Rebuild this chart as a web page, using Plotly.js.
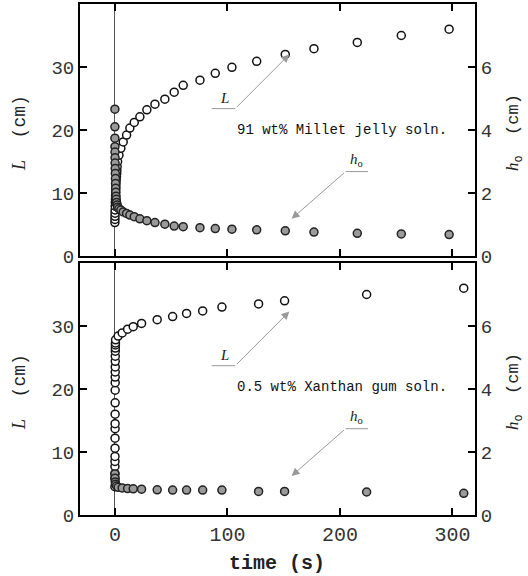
<!DOCTYPE html>
<html><head><meta charset="utf-8">
<script src="https://cdn.plot.ly/plotly-3.0.1.min.js"></script>
<style>html,body{margin:0;padding:0;background:#fff;}</style>
</head><body>
<div id="chart" style="width:528px;height:576px;"></div>
<script>
// ---- Top panel: 91 wt% Millet jelly solution ----
const millet_L_time = [0,0.05,0.1,0.15,0.2,0.3,0.4,0.5,0.6,0.7,0.8,0.9,1.0,1.2,1.4,1.6,1.8,2.0,2.4,3.6,5.3,7.4,10.4,13.3,17.2,22.2,28.4,35.6,44.4,52.7,60.7,75.6,89.2,104,126,151.4,176.9,215.4,254.5,297];
const millet_L = [5.3,5.8,6.3,6.8,7.3,7.9,8.5,9.0,9.6,10.1,10.6,11.1,11.6,12.1,12.6,13.1,13.6,14.2,15.0,16.0,17.1,18.1,19.2,20.3,21.2,22.1,23.2,24.1,24.9,26.0,27.1,27.9,29.0,29.95,30.9,32.0,32.9,33.9,35.0,36.0,36.9];
const millet_h_time = [0,0,0,0.05,0.1,0.15,0.2,0.3,0.4,0.5,0.6,0.7,0.8,1.0,1.2,1.5,2.0,2.4,3.6,5.3,7.4,10.4,13.3,17.2,22.2,28.4,35.6,44.4,52.7,60.7,75.6,89.2,104,126,151.4,176.9,215.4,254.5,297];
const millet_h = [4.66,4.10,3.74,3.47,3.30,3.12,2.95,2.78,2.62,2.46,2.30,2.15,2.02,1.90,1.80,1.70,1.62,1.55,1.50,1.46,1.40,1.35,1.30,1.25,1.18,1.12,1.06,1.01,0.95,0.93,0.90,0.87,0.85,0.83,0.80,0.76,0.72,0.70,0.68,0.66];

// ---- Bottom panel: 0.5 wt% Xanthan gum solution ----
const xanthan_L_time = [0.0,0.02,0.04,0.06,0.08,0.1,0.12,0.14,0.16,0.18,0.2,0.22,0.24,0.26,0.28,0.3,0.32,0.34,0.36,0.38,0.4,0.45,0.5,0.6,2.9,6.5,11.3,16.3,23.7,37.6,51.3,63.7,78,95.1,127.7,150.8,223.7,310];
const xanthan_L = [4.5,5.8,6.6,7.7,8.5,9.3,10.6,12.2,13.7,14.5,16.0,17.8,19.8,21.0,21.9,22.7,23.5,24.4,25.2,26.0,26.5,27.0,27.3,27.8,28.4,28.9,29.5,29.9,30.4,31.0,31.5,32.0,32.4,33.0,33.5,34.0,35.0,36.0];
const xanthan_h_time = [0,0.1,0.3,0.6,1.5,2.9,6.5,11.3,16.3,23.7,37.6,51.3,63.7,78,95.1,127.7,150.8,223.7,310];
const xanthan_h = [1.30,1.17,1.05,0.98,0.92,0.88,0.86,0.84,0.83,0.82,0.80,0.79,0.79,0.79,0.79,0.75,0.75,0.73,0.69];

const xTicks = [0,100,200,300];
const yLTicks = [0,10,20,30];
const yHTicks = [0,2,4,6];
const labelTop = "91 wt% Millet jelly soln.";
const labelBottom = "0.5 wt% Xanthan gum soln.";

const mono = "Liberation Mono, Courier New, monospace";
const openMarker = {symbol:'circle', size:8, color:'#ffffff', line:{color:'#111', width:1.5}};
const grayMarker = {symbol:'circle', size:8, color:'#9a9a9a', line:{color:'#222', width:1.5}};

const traces = [
  {x:millet_L_time, y:millet_L, xaxis:'x2', yaxis:'y3', mode:'markers', marker:openMarker, name:'L'},
  {x:millet_h_time, y:millet_h, xaxis:'x2', yaxis:'y4', mode:'markers', marker:grayMarker, name:'ho'},
  {x:xanthan_L_time, y:xanthan_L, xaxis:'x', yaxis:'y', mode:'markers', marker:openMarker, name:'L'},
  {x:xanthan_h_time, y:xanthan_h, xaxis:'x', yaxis:'y2', mode:'markers', marker:grayMarker, name:'ho'}
];

const W = 528, H = 576;
const xdom = [80/W, 475/W];
const topDom = [1-256/H, 1-4/H];
const botDom = [1-515/H, 1-263/H];

function xa(extra){return Object.assign({
  domain:xdom, range:[-31,320], tickvals:xTicks, ticks:'inside', ticklen:7, tickwidth:2, tickcolor:'#000',
  showline:true, linewidth:2, linecolor:'#000', mirror:'ticks', showgrid:false,
  zeroline:true, zerolinecolor:'#555', zerolinewidth:1,
  tickfont:{family:mono, size:20, color:'#333'}
}, extra);}
function ya(extra){return Object.assign({
  ticks:'inside', ticklen:7, tickwidth:2, tickcolor:'#000', showline:true, linewidth:2, linecolor:'#000',
  showgrid:false, zeroline:false, tickfont:{family:mono, size:19, color:'#333'}
}, extra);}

const ann = [];
function panelAnn(xref, yref, yoff, txt){
  ann.push({xref:xref, yref:yref, x:155, y:32.0+yoff, ax:107, ay:23.4+yoff, axref:xref, ayref:yref,
    showarrow:true, arrowhead:2, arrowsize:1.6, arrowwidth:1, arrowcolor:'#999', text:''});
  ann.push({xref:xref, yref:yref, x:97, y:23.5+yoff, xanchor:'center', yanchor:'bottom', showarrow:false,
    text:'<i>L</i>', font:{family:'Liberation Serif, serif', size:15, color:'#222'}});
  ann.push({xref:xref, yref:yref, x:157, y:5.9+yoff, ax:205, ay:13.4+yoff, axref:xref, ayref:yref,
    showarrow:true, arrowhead:2, arrowsize:1.6, arrowwidth:1, arrowcolor:'#999', text:''});
  ann.push({xref:xref, yref:yref, x:215, y:13.5+yoff, xanchor:'center', yanchor:'bottom', showarrow:false,
    text:'<i>h</i><sub>o</sub>', font:{family:'Liberation Serif, serif', size:15, color:'#222'}});
  ann.push({xref:xref, yref:yref, x:202, y:20.0+yoff, xanchor:'center', yanchor:'middle', showarrow:false, text:txt,
    font:{family:mono, size:14, color:'#111'}});
}
panelAnn('x2','y3',0,labelTop);
panelAnn('x','y',0.3,labelBottom);

const ltitle = '<span style="font-family:Liberation Serif;font-style:italic">L</span>  (cm)';
const rtitle = '<span style="font-family:Liberation Serif;font-style:italic">h</span><sub>o</sub>  (cm)';
[1-133/H, 1-392/H].forEach(function(py){
  ann.push({xref:'paper', yref:'paper', x:19/W, y:py, xanchor:'center', yanchor:'middle', textangle:-90, showarrow:false, text:ltitle,
    font:{family:mono, size:18, color:'#222'}});
  ann.push({xref:'paper', yref:'paper', x:514/W, y:py, xanchor:'center', yanchor:'middle', textangle:-90, showarrow:false, text:rtitle,
    font:{family:mono, size:17, color:'#222'}});
});
ann.push({xref:'paper', yref:'paper', x:277/W, y:1-563/H, xanchor:'center', yanchor:'middle', showarrow:false, text:'<b>time (s)</b>',
  font:{family:mono, size:20, color:'#222'}});

const shapes = [];
[['x2','y3',0],['x','y',0.3]].forEach(function(s){
  shapes.push({type:'line', xref:s[0], yref:s[1], x0:86, x1:107, y0:23.4+s[2], y1:23.4+s[2], line:{color:'#999', width:1}});
  shapes.push({type:'line', xref:s[0], yref:s[1], x0:205, x1:225, y0:13.4+s[2], y1:13.4+s[2], line:{color:'#999', width:1}});
});

const layout = {
  width:W, height:H, margin:{l:0,r:0,t:0,b:0}, showlegend:false,
  paper_bgcolor:'#fff', plot_bgcolor:'#fff',
  xaxis: xa({anchor:'y'}),
  xaxis2: xa({anchor:'y3', showticklabels:false}),
  yaxis: ya({domain:botDom, anchor:'x', range:[0,40], tickvals:yLTicks}),
  yaxis2: ya({domain:botDom, anchor:'x', overlaying:'y', side:'right', range:[0,8], tickvals:yHTicks}),
  yaxis3: ya({domain:topDom, anchor:'x2', range:[0,40], tickvals:yLTicks}),
  yaxis4: ya({domain:topDom, anchor:'x2', overlaying:'y3', side:'right', range:[0,8], tickvals:yHTicks}),
  annotations: ann, shapes: shapes
};

Plotly.newPlot('chart', traces, layout, {staticPlot:true, displayModeBar:false});
</script>
</body></html>
